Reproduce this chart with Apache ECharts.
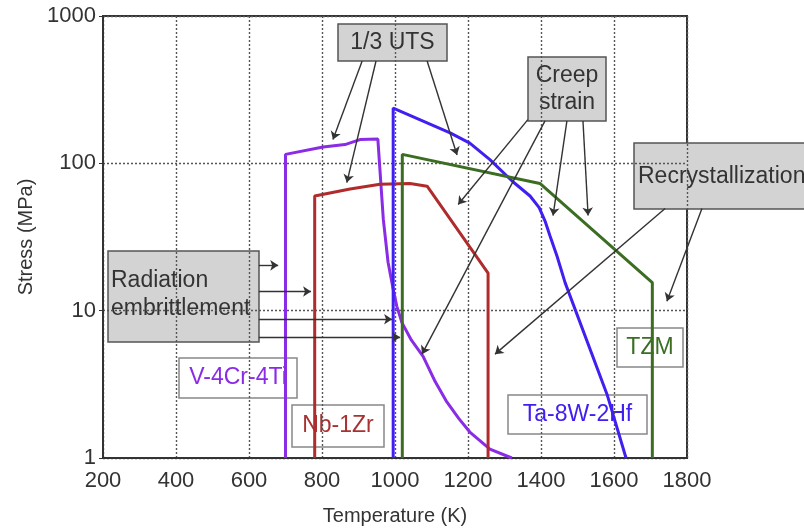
<!DOCTYPE html>
<html>
<head>
<meta charset="utf-8">
<script src="https://cdn.jsdelivr.net/npm/echarts@6/dist/echarts.min.js"></script>
<style>
  html, body { margin: 0; padding: 0; background: #fff; }
  #chart { width: 804px; height: 531px; }
</style>
</head>
<body>
<div id="chart"></div>
<script>
// Temperature limits of refractory alloys: allowable stress (MPa) vs temperature (K)
const xMin = 200, xMax = 1800, xStep = 200;
const yMin = 1, yMax = 1000;

// V-4Cr-4Ti
const vTemp   = [700, 700, 803, 863, 904, 953, 968, 981, 995, 1005, 1019, 1045, 1077, 1110, 1142, 1175, 1205, 1260, 1320];
const vStress = [1, 115, 129, 134, 145, 146, 41.6, 21.3, 14, 10.7, 8.3, 6.3, 4.9, 3.3, 2.4, 1.85, 1.5, 1.15, 1.0];

// Nb-1Zr
const nbTemp   = [780, 780, 877, 959, 1041, 1088, 1255, 1255];
const nbStress = [1, 60, 67, 72, 73, 70, 18, 1];

// Ta-8W-2Hf
const taTemp   = [995, 995, 1151, 1205, 1260, 1323, 1370, 1395, 1412, 1425, 1444, 1466, 1581, 1633];
const taStress = [1, 237, 161, 137, 106, 75, 60, 50, 40, 32, 23.4, 15.5, 2.7, 1];

// TZM
const tzmTemp   = [1020, 1020, 1397, 1705, 1705];
const tzmStress = [1, 115, 73, 15.5, 1];

// Annotation arrows, [temperature, stress] from start to tip
const arrowsUTS = [
  [[910, 495], [830, 145]],
  [[948, 495], [868, 74]],
  [[1088, 495], [1170, 114]]
];
const arrowsCreep = [
  [[1364, 198], [1173, 52.5]],
  [[1411, 194], [1074, 5.07]],
  [[1471, 194], [1433, 44.2]],
  [[1515, 194], [1529, 44.2]]
];
const arrowsRecryst = [
  [[1740, 49.4], [1274, 5.07]],
  [[1841, 49.4], [1745, 11.6]]
];
const arrowsRadiation = [
  [[627, 20.3], [680, 20.3]],
  [[627, 13.5], [770, 13.5]],
  [[627, 8.75], [992, 8.75]],
  [[627, 6.6], [1014, 6.6]]
];

const zip = (xs, ys) => xs.map((x, i) => [x, ys[i]]);
const FONT = '"Liberation Sans", Arial, sans-serif';
const TEXT = '#333';

const chart = echarts.init(document.getElementById('chart'), null, { renderer: 'canvas' });

function curve(name, xs, ys, color) {
  return {
    name, type: 'line', data: zip(xs, ys), symbol: 'none', smooth: false,
    lineStyle: { color, width: 3 }, z: 4, animation: false
  };
}

function arrowSeries(list) {
  return {
    type: 'lines', coordinateSystem: 'cartesian2d', polyline: false, clip: false,
    symbol: ['none', 'arrow'], symbolSize: [0, 8],
    lineStyle: { color: '#333', width: 1.4, opacity: 1, curveness: 0 },
    data: list.map(c => ({ coords: c })), z: 5, animation: false, silent: true
  };
}

function grayBox(x, y, w, h, lines, align) {
  const children = [{
    type: 'rect', shape: { x, y, width: w, height: h },
    style: { fill: '#d3d3d3', stroke: '#555', lineWidth: 1.5 }
  }];
  lines.forEach(l => {
    children.push({
      type: 'text', x: l[0], y: l[1],
      style: { text: l[2], font: '23px ' + FONT, fill: '#333',
               align: align, verticalAlign: 'middle' }
    });
  });
  return { type: 'group', z: 6, children };
}

function labelBox(x, y, w, h, text, color) {
  return {
    type: 'group', z: 1, children: [
      { type: 'rect', shape: { x, y, width: w, height: h },
        style: { fill: '#fff', stroke: '#888', lineWidth: 1.5 } },
      { type: 'text', x: x + w / 2, y: y + h / 2,
        style: { text, font: '23px ' + FONT, fill: color, align: 'center', verticalAlign: 'middle' } }
    ]
  };
}

const option = {
  animation: false,
  backgroundColor: '#fff',
  grid: { left: 103, right: 117, top: 16, bottom: 72, show: true,
          borderColor: '#333', borderWidth: 2, backgroundColor: 'transparent' },
  xAxis: {
    type: 'value', min: xMin, max: xMax, interval: xStep,
    name: 'Temperature (K)', nameLocation: 'middle', nameGap: 48,
    nameTextStyle: { fontFamily: FONT, fontSize: 20, color: TEXT },
    axisLine: { show: true, lineStyle: { color: '#333', width: 2 } },
    axisTick: { show: false },
    axisLabel: { fontFamily: FONT, fontSize: 22, color: TEXT, margin: 12,
                 formatter: v => String(v) },
    splitLine: { show: true, lineStyle: { color: '#555', width: 1.4, type: [2, 2] } }
  },
  yAxis: {
    type: 'log', logBase: 10, min: yMin, max: yMax,
    name: 'Stress (MPa)', nameLocation: 'middle', nameGap: 66,
    nameTextStyle: { fontFamily: FONT, fontSize: 20, color: TEXT },
    axisLine: { show: true, lineStyle: { color: '#333', width: 2 } },
    axisTick: { show: true, length: 4, inside: false, lineStyle: { color: '#333' } },
    minorTick: { show: false },
    axisLabel: { fontFamily: FONT, fontSize: 22, color: TEXT, margin: 7,
                 formatter: v => String(Math.round(v)) },
    splitLine: { show: true, lineStyle: { color: '#555', width: 1.4, type: [2, 2] } }
  },
  series: [
    curve('V-4Cr-4Ti', vTemp, vStress, '#8a2be6'),
    curve('Nb-1Zr', nbTemp, nbStress, '#b02c2c'),
    curve('Ta-8W-2Hf', taTemp, taStress, '#4020f0'),
    curve('TZM', tzmTemp, tzmStress, '#3b6e22'),
    arrowSeries(arrowsUTS),
    arrowSeries(arrowsCreep),
    arrowSeries(arrowsRecryst),
    arrowSeries(arrowsRadiation)
  ],
  graphic: [
    grayBox(338, 24, 109, 37, [[392.5, 43, '1/3 UTS']], 'center'),
    grayBox(528, 57, 78, 64, [[567, 76, 'Creep'], [567, 103, 'strain']], 'center'),
    grayBox(634, 143, 190, 66, [[638, 177, 'Recrystallization']], 'left'),
    grayBox(108, 251, 151, 91, [[111, 281, 'Radiation'], [111, 309, 'embrittlement']], 'left'),
    labelBox(179, 358, 118, 40, 'V-4Cr-4Ti', '#8a2be6'),
    labelBox(292, 405, 92, 42, 'Nb-1Zr', '#a83232'),
    labelBox(508, 395, 139, 39, 'Ta-8W-2Hf', '#4020f0'),
    labelBox(617, 328, 66, 39, 'TZM', '#3b6e22')
  ]
};

chart.setOption(option);
</script>
</body>
</html>
